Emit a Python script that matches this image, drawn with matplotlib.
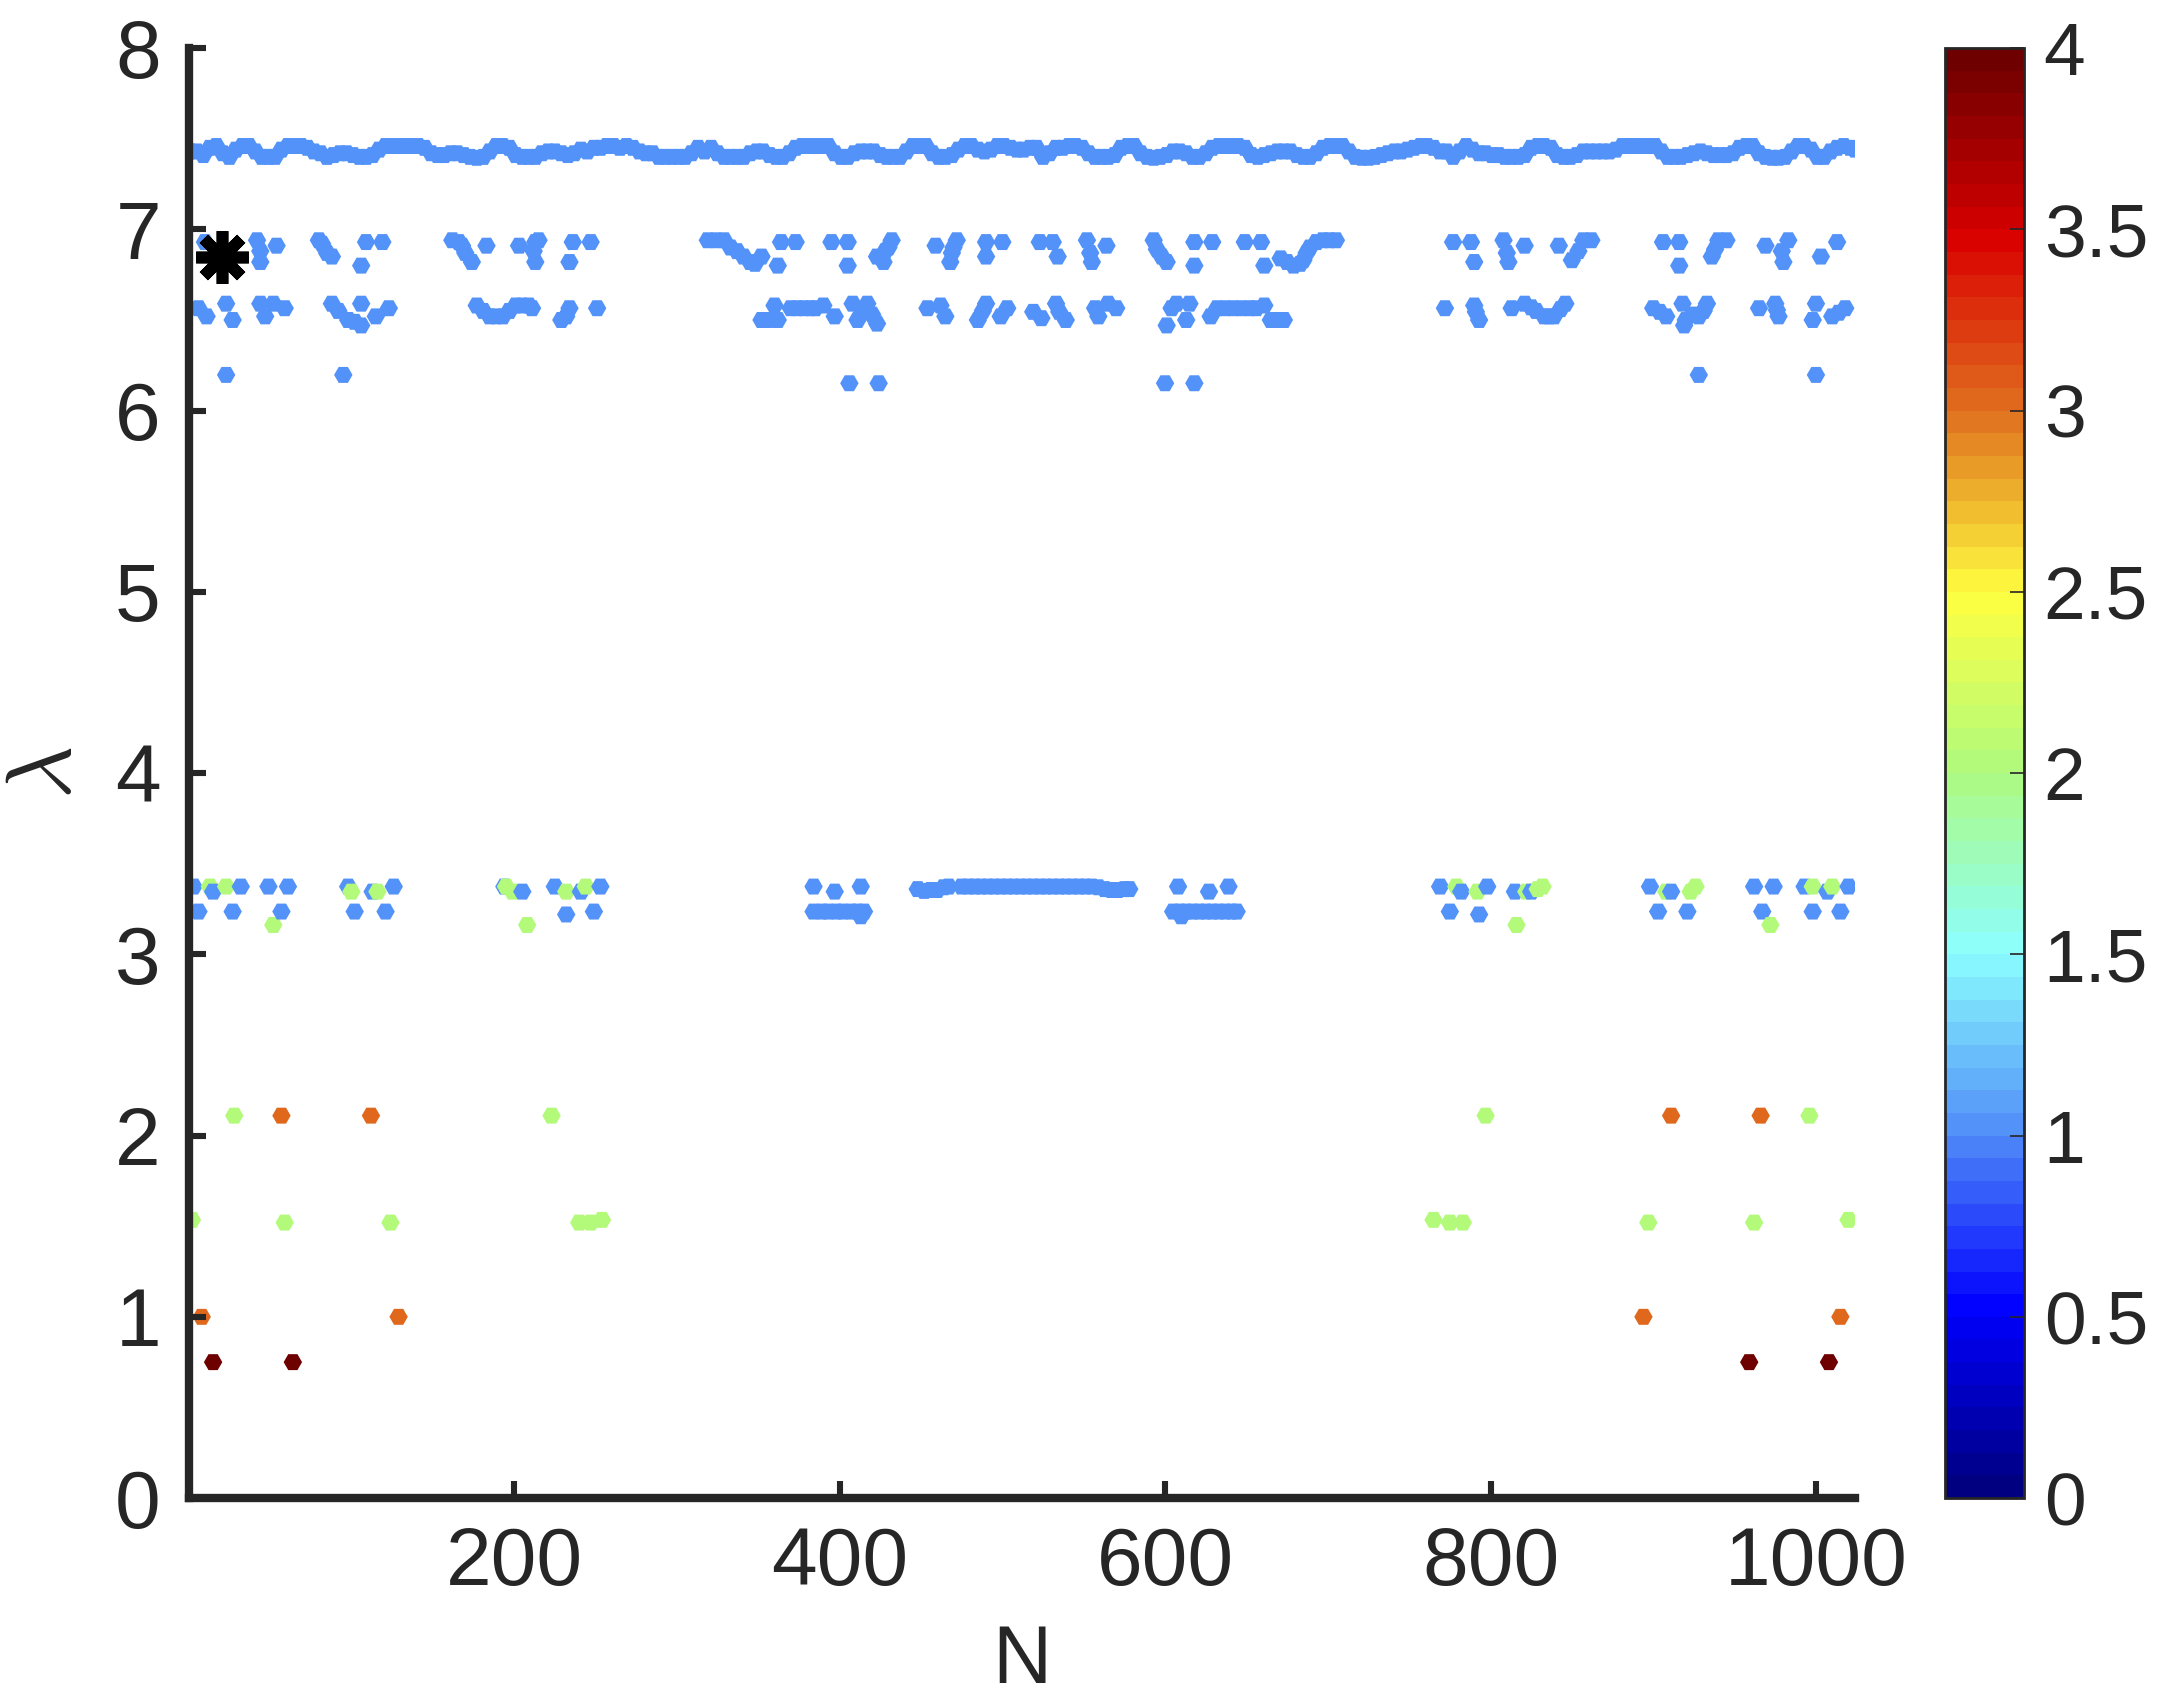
import numpy as np
import matplotlib.pyplot as plt
from matplotlib.colors import LinearSegmentedColormap

plt.rcParams['font.family'] = ['Liberation Sans', 'DejaVu Sans']
plt.rcParams['mathtext.fontset'] = 'cm'

# colour values of the point groups
blue_val = 1.0
green_val = 2.0
orange_val = 3.0
darkred_val = 4.0

# top band (lambda ~ 7.4), sampled every 4th N
top_n = list(range(1, 1022, 4)) + [1024]
top_lam = [
    # N 1 - 253
    7.43, 7.43, 7.41, 7.45, 7.46, 7.42, 7.40, 7.44, 7.46, 7.46, 7.43, 7.40, 7.40, 7.40, 7.44, 7.46,
    7.46, 7.46, 7.45, 7.43, 7.42, 7.40, 7.41, 7.42, 7.42, 7.41, 7.40, 7.40, 7.41, 7.44, 7.46, 7.46,
    7.46, 7.46, 7.46, 7.46, 7.45, 7.42, 7.41, 7.41, 7.42, 7.42, 7.41, 7.40, 7.395, 7.40, 7.43, 7.46,
    7.46, 7.45, 7.41, 7.40, 7.40, 7.40, 7.42, 7.43, 7.43, 7.42, 7.41, 7.42, 7.44, 7.43, 7.45, 7.45,
    # N 257 - 505
    7.46, 7.46, 7.45, 7.46, 7.45, 7.43, 7.42, 7.42, 7.40, 7.40, 7.40, 7.40, 7.40, 7.42, 7.45, 7.43,
    7.45, 7.42, 7.40, 7.40, 7.40, 7.40, 7.42, 7.43, 7.43, 7.41, 7.40, 7.40, 7.42, 7.45, 7.46, 7.46,
    7.46, 7.46, 7.46, 7.42, 7.40, 7.40, 7.42, 7.43, 7.43, 7.43, 7.41, 7.40, 7.40, 7.40, 7.43, 7.46,
    7.46, 7.46, 7.42, 7.40, 7.40, 7.41, 7.44, 7.46, 7.46, 7.44, 7.43, 7.44, 7.46, 7.46, 7.45,
    # N 509 - 765
    7.44, 7.44, 7.45, 7.45, 7.40, 7.42, 7.45, 7.45, 7.46, 7.46, 7.45, 7.42, 7.40, 7.40, 7.40, 7.41,
    7.45, 7.46, 7.46, 7.42, 7.40, 7.395, 7.40, 7.41, 7.43, 7.43, 7.42, 7.40, 7.40, 7.42, 7.45, 7.46,
    7.46, 7.46, 7.46, 7.45, 7.41, 7.40, 7.41, 7.42, 7.43, 7.43, 7.43, 7.41, 7.40, 7.40, 7.42, 7.45,
    7.46, 7.46, 7.46, 7.43, 7.40, 7.395, 7.395, 7.40, 7.41, 7.42, 7.43, 7.43, 7.44, 7.45, 7.46, 7.46,
    7.45,
    # N 769 - 1024
    7.43, 7.43, 7.40, 7.43, 7.46, 7.44, 7.42, 7.42, 7.41, 7.41, 7.40, 7.40, 7.40, 7.41, 7.45, 7.46,
    7.46, 7.45, 7.41, 7.40, 7.40, 7.41, 7.43, 7.43, 7.43, 7.43, 7.43, 7.44, 7.46, 7.46, 7.46, 7.46,
    7.46, 7.46, 7.43, 7.40, 7.40, 7.40, 7.41, 7.42, 7.43, 7.42, 7.41, 7.41, 7.41, 7.42, 7.45, 7.46,
    7.46, 7.42, 7.40, 7.395, 7.395, 7.40, 7.43, 7.46, 7.46, 7.44, 7.40, 7.40, 7.43, 7.45, 7.46, 7.45,
    7.44,
]
assert len(top_n) == len(top_lam)

# upper cluster (lambda 6.8 - 6.95)
up_n = [10, 42, 44, 44, 54, 80, 82, 85, 88, 106, 109, 119, 162, 166, 168, 170, 174, 183,
        203, 213, 215, 212, 213, 236, 247, 234,
        319, 324, 329, 333, 337, 341, 345, 348, 352, 362, 364, 373, 395, 405, 405,
        432, 430, 428, 423, 427, 459, 472, 470, 469, 468, 490, 500, 490,
        523, 531, 534, 552, 554, 555, 564, 593, 595, 598, 601, 618, 629, 618, 649, 659, 661,
        671, 675, 679, 683, 685, 687, 689, 693, 697, 701, 705,
        777, 788, 790, 808, 810, 811, 821, 842, 857, 862, 854, 850, 906, 916, 916,
        940, 945, 938, 936, 969, 983, 979, 980, 1013, 1003]
up_lam = [6.93, 6.94, 6.88, 6.82, 6.91, 6.94, 6.92, 6.87, 6.85, 6.80, 6.93, 6.93, 6.94, 6.93, 6.91, 6.87, 6.82, 6.91,
          6.91, 6.93, 6.94, 6.88, 6.82, 6.93, 6.93, 6.82,
          6.94, 6.94, 6.94, 6.90, 6.88, 6.85, 6.82, 6.81, 6.85, 6.80, 6.93, 6.93, 6.93, 6.93, 6.80,
          6.94, 6.90, 6.88, 6.85, 6.82, 6.91, 6.94, 6.90, 6.87, 6.82, 6.93, 6.93, 6.85,
          6.93, 6.93, 6.85, 6.94, 6.87, 6.82, 6.91, 6.94, 6.89, 6.85, 6.82, 6.93, 6.93, 6.80, 6.93, 6.93, 6.80,
          6.84, 6.82, 6.80, 6.81, 6.83, 6.87, 6.90, 6.93, 6.94, 6.94, 6.94,
          6.93, 6.93, 6.82, 6.94, 6.87, 6.82, 6.91, 6.91, 6.94, 6.94, 6.88, 6.83, 6.93, 6.93, 6.80,
          6.94, 6.94, 6.89, 6.85, 6.91, 6.94, 6.88, 6.82, 6.93, 6.85]

# lower cluster (lambda 6.45 - 6.6)
low_n = [6, 11, 23, 27, 44, 47, 52, 59, 88, 92, 98, 102, 106, 106, 115, 123,
         177, 181, 185, 189, 193, 197, 201, 205, 209, 211, 229, 232, 234, 251,
         352, 356, 360, 362, 370, 374, 378, 382, 385, 390, 397, 408, 411, 414, 417, 420, 423,
         454, 462, 465, 485, 488, 490, 499, 503,
         519, 524, 533, 535, 539, 557, 559, 565, 570, 601, 604, 607, 613, 615,
         628, 632, 637, 642, 647, 652, 656, 661, 665, 669, 673,
         772, 790, 791, 793, 813, 821, 825, 828, 833, 836, 839, 843, 846,
         900, 904, 908, 918, 920, 919, 924, 928, 931, 933,
         965, 975, 977, 976, 1000, 998, 1010, 1014, 1018]
low_lam = [6.565, 6.52, 6.59, 6.50, 6.59, 6.52, 6.59, 6.565, 6.59, 6.55, 6.50, 6.49, 6.47, 6.59, 6.52, 6.565,
           6.58, 6.55, 6.52, 6.52, 6.52, 6.55, 6.58, 6.58, 6.58, 6.565, 6.50, 6.52, 6.565, 6.565,
           6.50, 6.50, 6.58, 6.50, 6.565, 6.565, 6.565, 6.565, 6.565, 6.58, 6.52, 6.59, 6.50, 6.55, 6.59, 6.53, 6.48,
           6.565, 6.58, 6.52, 6.50, 6.55, 6.59, 6.52, 6.565,
           6.545, 6.51, 6.59, 6.545, 6.50, 6.565, 6.52, 6.59, 6.565, 6.47, 6.565, 6.59, 6.50, 6.59,
           6.52, 6.565, 6.565, 6.565, 6.565, 6.565, 6.565, 6.58, 6.50, 6.50, 6.50,
           6.565, 6.58, 6.545, 6.50, 6.565, 6.59, 6.57, 6.55, 6.52, 6.52, 6.52, 6.56, 6.59,
           6.565, 6.545, 6.52, 6.59, 6.50, 6.47, 6.53, 6.52, 6.55, 6.59,
           6.565, 6.59, 6.52, 6.555, 6.59, 6.50, 6.52, 6.54, 6.565]

# isolated points near 6.2
iso_n = [23, 95, 406, 424, 600, 618, 928, 1000]
iso_lam = [6.197, 6.197, 6.151, 6.151, 6.151, 6.151, 6.197, 6.197]

# middle band (lambda ~ 3.2 - 3.4), blue points
mid_n = [3, 6, 15, 27, 32, 49, 57, 61, 98, 102, 113, 121, 126, 194, 205, 225, 232, 241, 249, 253,
         384, 384, 389, 393, 397, 398, 402, 407, 411, 413, 413, 415,
         448, 452, 456, 460, 464, 467,
         475, 479, 483, 487, 491, 495, 499, 503, 507, 511,
         515, 519, 523, 527, 531, 535, 539, 543, 547, 551, 555,
         559, 563, 567, 571, 575, 578,
         605, 608, 609, 610, 613, 617, 621, 625, 627, 629, 633, 637, 639, 641, 644,
         769, 775, 782, 793, 798, 815, 825, 898, 903, 911, 921, 962, 967, 974, 993, 998, 1007, 1015, 1020]
mid_lam = [3.374, 3.236, 3.346, 3.236, 3.374, 3.374, 3.236, 3.374, 3.374, 3.236, 3.346, 3.236, 3.374,
           3.374, 3.346, 3.374, 3.22, 3.346, 3.236, 3.374,
           3.374, 3.236, 3.236, 3.236, 3.346, 3.236, 3.236, 3.236, 3.236, 3.374, 3.21, 3.236,
           3.36, 3.35, 3.355, 3.355, 3.37, 3.374,
           3.374, 3.374, 3.374, 3.374, 3.374, 3.374, 3.374, 3.374, 3.374, 3.374,
           3.374, 3.374, 3.374, 3.374, 3.374, 3.374, 3.374, 3.374, 3.374, 3.374, 3.374,
           3.37, 3.36, 3.355, 3.355, 3.36, 3.36,
           3.236, 3.374, 3.236, 3.21, 3.236, 3.236, 3.236, 3.236, 3.346, 3.236, 3.236, 3.236, 3.374, 3.236, 3.236,
           3.374, 3.236, 3.346, 3.22, 3.374, 3.346, 3.346, 3.374, 3.236, 3.346, 3.236, 3.374, 3.236, 3.374,
           3.374, 3.236, 3.346, 3.236, 3.374]

# middle band, green points
midg_n = [13, 23, 52, 100, 116, 195, 199, 208, 232, 244,
          779, 792, 816, 822, 829, 832, 908, 923, 926, 972, 998, 1010]
midg_lam = [3.374, 3.374, 3.162, 3.346, 3.346, 3.374, 3.346, 3.162, 3.346, 3.374,
            3.374, 3.346, 3.162, 3.346, 3.36, 3.374, 3.346, 3.346, 3.374, 3.162, 3.374, 3.374]

# low green points
lg_n = [2, 28, 59, 124, 223, 240, 247, 254, 765, 775, 783, 797, 897, 962, 996, 1020]
lg_lam = [1.535, 2.11, 1.52, 1.52, 2.11, 1.52, 1.52, 1.535, 1.535, 1.52, 1.52, 2.11, 1.52, 1.52, 2.11, 1.535]

# orange points
or_n = [8, 57, 112, 129, 894, 911, 966, 1015]
or_lam = [1.0, 2.11, 2.11, 1.0, 1.0, 2.11, 2.11, 1.0]

# dark red points
dr_n = [15, 64, 959, 1008]
dr_lam = [0.75, 0.75, 0.75, 0.75]

# highlighted point
star_n = [20.4]
star_lam = [6.846]

groups = [
    (top_n, top_lam, blue_val),
    (up_n, up_lam, blue_val),
    (low_n, low_lam, blue_val),
    (iso_n, iso_lam, blue_val),
    (mid_n, mid_lam, blue_val),
    (midg_n, midg_lam, green_val),
    (lg_n, lg_lam, green_val),
    (or_n, or_lam, orange_val),
    (dr_n, dr_lam, darkred_val),
]

xs = np.concatenate([np.asarray(g[0], float) for g in groups])
ys = np.concatenate([np.asarray(g[1], float) for g in groups])
cs = np.concatenate([np.full(len(g[0]), g[2]) for g in groups])
order = np.argsort(xs, kind='stable')

anchors = [(0.0, (0.0, 0.0, 0.5)), (0.125, (0.0, 0.0, 1.0)), (0.25, (0.32, 0.56, 0.97)),
           (0.375, (0.55, 1.0, 1.0)), (0.5, (0.68, 0.98, 0.5)), (0.625, (1.0, 1.0, 0.25)),
           (0.75, (0.88, 0.45, 0.12)), (0.875, (0.85, 0.0, 0.0)), (1.0, (0.43, 0.0, 0.0))]
cmap = LinearSegmentedColormap.from_list('lam_map', anchors, N=64)

dark = '#262626'
fs = 29.5

fig = plt.figure(figsize=(10.795, 8.505), dpi=200)
ax = fig.add_axes([0.0874, 0.1193, 0.7718, 0.8524])
sc = ax.scatter(xs[order], ys[order], c=cs[order], cmap=cmap, vmin=0, vmax=4,
                marker='H', s=44, linewidths=0)
ax.plot(star_n, star_lam, linestyle='none', marker=(8, 2, 0), markersize=19,
        markeredgewidth=4.2, color='black', zorder=5)

ax.set_xlim(0, 1024)
ax.set_ylim(0, 8)
ax.set_xticks([200, 400, 600, 800, 1000])
ax.set_yticks(range(0, 9))
for side in ['top', 'right']:
    ax.spines[side].set_visible(False)
for side in ['left', 'bottom']:
    ax.spines[side].set_linewidth(3)
    ax.spines[side].set_color(dark)
ax.tick_params(direction='in', length=6, width=2.2, color=dark, labelcolor=dark,
               labelsize=fs)
ax.tick_params(axis='x', pad=10)
ax.tick_params(axis='y', pad=10)
ax.set_xlabel('N', fontsize=fs, color=dark, labelpad=8)
ax.set_ylabel(r'$\lambda$', fontsize=33, color=dark, labelpad=9)

cax = fig.add_axes([0.901, 0.1193, 0.0366, 0.8524])
cb = fig.colorbar(sc, cax=cax)
cb.set_ticks(np.arange(0, 4.01, 0.5))
cb.set_ticklabels(['0', '0.5', '1', '1.5', '2', '2.5', '3', '3.5', '4'])
cb.outline.set_linewidth(1.0)
cb.outline.set_edgecolor(dark)
cax.tick_params(direction='in', length=5, width=0.6, color=dark, labelcolor=dark,
                labelsize=27, pad=7)

fig.savefig('out.png', dpi=200)
